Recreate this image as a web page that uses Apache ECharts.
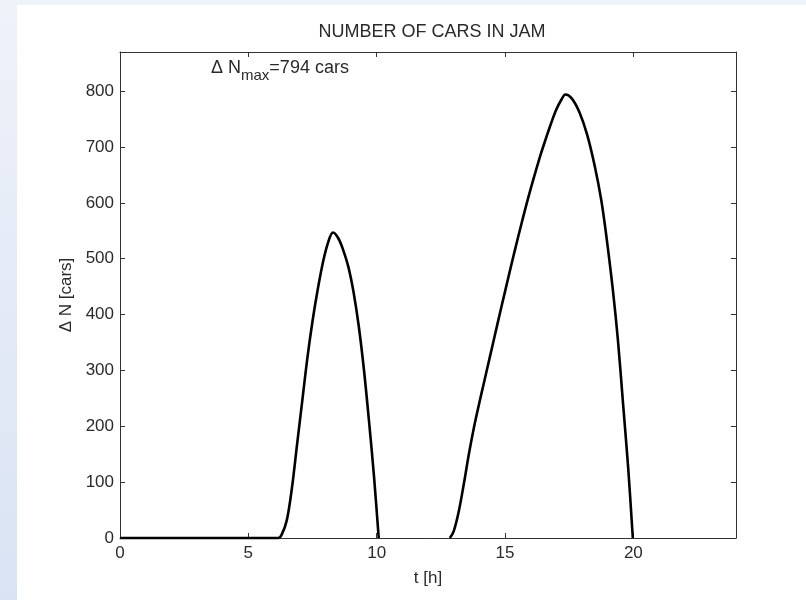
<!DOCTYPE html>
<html>
<head>
<meta charset="utf-8">
<script src="https://cdn.jsdelivr.net/npm/echarts@6/dist/echarts.min.js"></script>
<style>
html,body{margin:0;padding:0;background:#EEF2F9;}
#chart{width:806px;height:600px;}
</style>
</head>
<body>
<div id="chart"></div>
<script>
// Data
const title = 'NUMBER OF CARS IN JAM';
const xAxisName = 't [h]';
const yAxisName = 'Δ N [cars]';
const xTicks = [0, 5, 10, 15, 20];
const yTicks = [0, 100, 200, 300, 400, 500, 600, 700, 800];
const xMax = 24;
const yMax = 870;

// First jam (including the leading zero stretch)
const jam1T = [0, 6.17, 6.3, 6.5, 6.7, 6.9, 7.1, 7.3, 7.5, 7.7, 7.9, 8.1, 8.3, 8.5, 8.7, 8.9, 9.1, 9.3, 9.5, 9.7, 9.9, 10.08];
const jam1N = [0, 0, 6, 32, 90, 168, 245, 322, 388, 444, 492, 528, 547, 537, 515, 485, 440, 380, 303, 210, 108, 0];

// Second jam
const jam2T = [12.85, 13.0, 13.2, 13.4, 13.6, 13.8, 14.0, 14.2, 14.4, 14.6, 14.8, 15.0, 15.2, 15.4, 15.6, 15.8, 16.0, 16.2, 16.4, 16.6, 16.8, 17.0, 17.2, 17.35, 17.6, 17.9, 18.2, 18.5, 18.75, 18.95, 19.2, 19.4, 19.6, 19.8, 19.98];
const jam2N = [0, 12, 48, 98, 152, 200, 242, 282, 322, 362, 402, 441, 480, 518, 555, 591, 625, 657, 688, 716, 743, 767, 785, 794, 787, 762, 722, 665, 605, 540, 445, 354, 240, 125, 0];

const maxLabelMain = 'Δ N';
const maxLabelSub = 'max';
const maxLabelTail = '=794 cars';

const FONT = '"Liberation Sans", Arial, sans-serif';
const TXT = '#2a2a2a';
const pairs = (t, n) => t.map((v, i) => [v, n[i]]);

const chart = echarts.init(document.getElementById('chart'), null, {renderer: 'canvas'});

const commonX = {
  type: 'value', min: 0, max: xMax, interval: 5,
  splitLine: {show: false},
  axisLine: {show: true, onZero: false, lineStyle: {color: '#333', width: 1}},
  axisTick: {show: true, inside: true, length: 5, lineStyle: {color: '#333'}}
};
const commonY = {
  type: 'value', min: 0, max: yMax, interval: 100,
  splitLine: {show: false},
  axisLine: {show: true, onZero: false, lineStyle: {color: '#333', width: 1}},
  axisTick: {show: true, inside: true, length: 5, lineStyle: {color: '#333'}}
};

chart.setOption({
  backgroundColor: '#EEF2F9',
  animation: false,
  graphic: [
    {type: 'rect', z: -10, shape: {x: 0, y: 0, width: 17, height: 600},
     style: {fill: new echarts.graphic.LinearGradient(0, 0, 0, 1, [
       {offset: 0, color: '#EEF2F9'}, {offset: 1, color: '#D9E3F3'}])}},
    {type: 'rect', z: -9, shape: {x: 17, y: 5, width: 789, height: 595}, style: {fill: '#FFFFFF'}},
    {type: 'text', left: 211, top: 59, z: 10,
     style: {
       text: '{a|' + maxLabelMain + '}{b|' + maxLabelSub + '}{a|' + maxLabelTail + '}',
       rich: {
         a: {fontSize: 18, fontFamily: FONT, fill: TXT, verticalAlign: 'top', lineHeight: 19},
         b: {fontSize: 15, fontFamily: FONT, fill: TXT, verticalAlign: 'top', padding: [9, 0, 0, 0], lineHeight: 17}
       }
     }}
  ],
  title: {
    text: title, left: 427, top: 18, textAlign: 'center',
    textStyle: {fontFamily: FONT, fontSize: 18, fontWeight: 'normal', color: TXT}
  },
  grid: {left: 120, top: 52, width: 616, height: 486, show: false},
  xAxis: [
    Object.assign({}, commonX, {
      position: 'bottom',
      name: xAxisName, nameLocation: 'middle', nameGap: 32,
      nameTextStyle: {fontFamily: FONT, fontSize: 17, color: TXT},
      axisLabel: {show: true, margin: 7, fontFamily: FONT, fontSize: 17, color: TXT,
        formatter: v => (xTicks.indexOf(v) >= 0 ? String(v) : '')}
    }),
    Object.assign({}, commonX, {position: 'top', axisLabel: {show: false}})
  ],
  yAxis: [
    Object.assign({}, commonY, {
      position: 'left',
      name: yAxisName, nameLocation: 'middle', nameGap: 44,
      nameTextStyle: {fontFamily: FONT, fontSize: 17, color: TXT},
      axisLabel: {show: true, margin: 6, fontFamily: FONT, fontSize: 17, color: TXT,
        formatter: v => (yTicks.indexOf(v) >= 0 ? String(v) : '')}
    }),
    Object.assign({}, commonY, {position: 'right', axisLabel: {show: false}})
  ],
  series: [
    {type: 'line', data: pairs(jam1T, jam1N), showSymbol: false, smooth: 0.35, clip: false,
     lineStyle: {color: '#000', width: 2.6}},
    {type: 'line', data: pairs(jam2T, jam2N), showSymbol: false, smooth: 0.35, clip: false,
     lineStyle: {color: '#000', width: 2.6}}
  ]
});
</script>
</body>
</html>
